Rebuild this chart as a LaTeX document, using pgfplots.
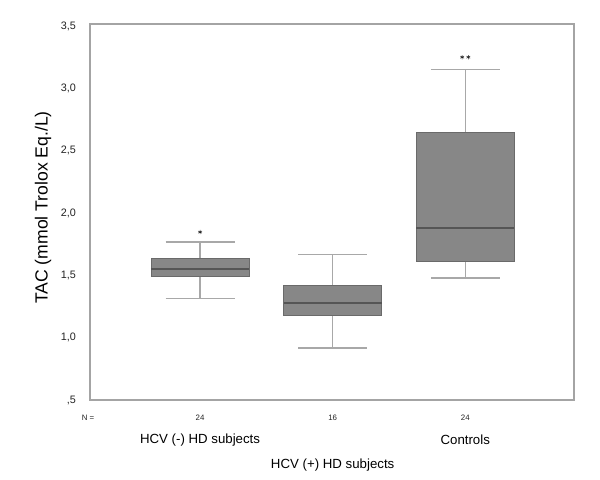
\documentclass[border=0pt]{standalone}
\usepackage{pgfplots}
\pgfplotsset{compat=1.18}
\usepgfplotslibrary{statistics}
\usepackage{fontspec}
\setmainfont{Liberation Sans}
\definecolor{boxfill}{HTML}{878787}
\definecolor{boxedge}{HTML}{6A6A6A}
\definecolor{mediangray}{HTML}{555555}
\definecolor{whiskergray}{HTML}{A8A8A8}
\definecolor{framegray}{HTML}{A4A4A4}
\definecolor{textgray}{HTML}{222222}
\begin{document}
\begin{tikzpicture}
\useasboundingbox (0,0) rectangle (450pt,359.25pt);
\begin{axis}[
  at={(67.5pt,59.25pt)}, anchor=south west,
  scale only axis, width=363pt, height=282pt,
  xmin=0.17, xmax=3.82, ymin=0.5, ymax=3.516,
  axis line style={draw=framegray, line width=1.1pt},
  major tick length=0pt,
  xtick={1,2,3}, xticklabels={24,16,24},
  ytick={0.5,1,1.5,2,2.5,3,3.5},
  yticklabels={{,5},{1,0},{1,5},{2,0},{2,5},{3,0},{3,5}},
  xticklabel style={font=\fontsize{5.9}{7}\selectfont, anchor=center, yshift=-13.5pt, text=textgray},
  yticklabel style={font=\fontsize{8.1}{10}\selectfont, anchor=east, xshift=-7pt, text=textgray},
  ylabel={TAC (mmol Trolox Eq./L)},
  ylabel style={font=\fontsize{13.2}{15}\selectfont, at={(rel axis cs:0,0.5)}, anchor=center, rotate=0, yshift=35.25pt, xshift=3.4pt, text=black},
  clip=false,
  boxplot/draw direction=y,
  boxplot/every box/.style={draw=boxedge, fill=boxfill, line width=0.6pt},
  boxplot/every whisker/.style={draw=whiskergray, line width=0.9pt},
  boxplot/every median/.style={draw=mediangray, line width=0.9pt},
]
\addplot[boxplot prepared={draw position=1, lower whisker=1.315, lower quartile=1.49, median=1.55, upper quartile=1.635, upper whisker=1.767, box extend=0.74, whisker extend=0.52}] coordinates {};
\addplot[boxplot prepared={draw position=2, lower whisker=0.917, lower quartile=1.179, median=1.278, upper quartile=1.417, upper whisker=1.665, box extend=0.74, whisker extend=0.52}] coordinates {};
\addplot[boxplot prepared={draw position=3, lower whisker=1.478, lower quartile=1.609, median=1.879, upper quartile=2.648, upper whisker=3.15, box extend=0.74, whisker extend=0.52}] coordinates {};
\addplot[only marks, mark=asterisk, mark size=1.6pt, color=textgray] coordinates {(1,1.847) (2.977,3.25) (3.023,3.25)};
\node[font=\fontsize{5.9}{7}\selectfont, text=textgray] at (rel axis cs:0,0) [xshift=-1.5pt, yshift=-13.5pt] {N =};
\node[font=\fontsize{9.94}{12}\selectfont] at (axis cs:1,0.5) [yshift=-30pt] {HCV (-) HD subjects};
\node[font=\fontsize{9.94}{12}\selectfont] at (axis cs:3,0.5) [yshift=-30pt] {Controls};
\node[font=\fontsize{9.94}{12}\selectfont] at (axis cs:2,0.5) [yshift=-48.75pt] {HCV (+) HD subjects};
\end{axis}
\end{tikzpicture}
\end{document}
